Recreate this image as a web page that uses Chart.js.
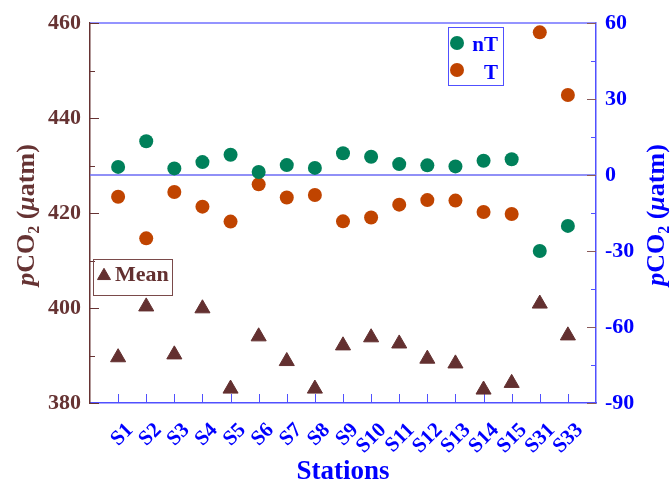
<!DOCTYPE html>
<html>
<head>
<meta charset="utf-8">
<script src="https://cdn.jsdelivr.net/npm/chart.js@4/dist/chart.umd.min.js"></script>
<style>
  html, body { margin: 0; padding: 0; background: #ffffff; }
  #wrap { width: 670px; height: 483px; }
</style>
</head>
<body>
<div id="wrap"><canvas id="c" width="670" height="483"></canvas></div>
<script>
// Sampling stations along the x axis
const stations = ['S1','S2','S3','S4','S5','S6','S7','S8','S9','S10','S11','S12','S13','S14','S15','S31','S33'];
// Mean pCO2 (left axis, µatm)
const meanValues = [389.6, 400.3, 390.2, 399.9, 383.0, 394.0, 388.8, 383.0, 392.1, 393.8, 392.5, 389.3, 388.3, 382.8, 384.2, 400.9, 394.2];
// Non-thermal and thermal components (right axis, µatm)
const nTValues = [3.2, 13.3, 2.6, 5.1, 8.0, 1.2, 3.9, 2.8, 8.6, 7.2, 4.3, 3.8, 3.4, 5.6, 6.2, -30.0, -20.1];
const TValues = [-8.6, -25.0, -6.7, -12.5, -18.4, -3.7, -8.9, -7.9, -18.3, -16.8, -11.7, -9.9, -10.1, -14.6, -15.4, 56.3, 31.6];
// Axis ticks
const leftTicks = [380, 400, 420, 440, 460];
const rightTicks = [-90, -60, -30, 0, 30, 60];

const SERIF = '"Liberation Serif", "Times New Roman", serif';
const MAROON = '#663333';
const TRI = '#633030';
const BLUE = '#0000ff';
const LINE_BLUE = '#5050ff';
const GREEN = '#00805a';
const ORANGE = '#c04400';

const toPoints = vals => vals.map((v, i) => ({ x: i + 1, y: v }));

// Inward ticks, zero reference line and frame
const framePlugin = {
  id: 'frame',
  beforeDatasetsDraw(chart) {
    const { ctx, chartArea: a, scales } = chart;
    const yL = scales.y, yR = scales.y1, x = scales.x;
    ctx.save();
    ctx.lineWidth = 1.5;
    // zero line of the right axis
    ctx.strokeStyle = '#6b6bf5';
    const z = yR.getPixelForValue(0);
    ctx.beginPath(); ctx.moveTo(a.left, z); ctx.lineTo(a.right, z); ctx.stroke();
    // top frame
    ctx.strokeStyle = '#7070ff';
    ctx.beginPath(); ctx.moveTo(a.left, a.top); ctx.lineTo(a.right, a.top); ctx.stroke();
    // left ticks
    ctx.strokeStyle = MAROON;
    ctx.lineWidth = 1;
    for (let v = yL.min; v <= yL.max; v += 10) {
      const p = Math.round(yL.getPixelForValue(v)) + 0.5;
      const len = (v % 20 === 0) ? 9 : 5;
      ctx.beginPath(); ctx.moveTo(a.left, p); ctx.lineTo(a.left + len, p); ctx.stroke();
    }
    // right ticks
    for (let v = yR.min; v <= yR.max; v += 15) {
      const p = Math.round(yR.getPixelForValue(v)) + 0.5;
      const major = (v % 30 === 0);
      ctx.strokeStyle = major ? '#8a5a5a' : LINE_BLUE;
      const len = major ? 9 : 5;
      ctx.beginPath(); ctx.moveTo(a.right, p); ctx.lineTo(a.right - len, p); ctx.stroke();
    }
    // bottom ticks
    ctx.strokeStyle = LINE_BLUE;
    for (let i = 1; i <= stations.length; i++) {
      const p = Math.round(x.getPixelForValue(i)) + 0.5;
      ctx.beginPath(); ctx.moveTo(p, a.bottom); ctx.lineTo(p, a.bottom - 9); ctx.stroke();
    }
    ctx.restore();
  }
};

// Axis titles with italic variable, subscript and Greek letter
function drawTitle(ctx, cx, cy, color) {
  const size = 26;
  const parts = [
    { t: 'p', f: `italic bold ${size}px ${SERIF}`, dy: 0 },
    { t: 'CO', f: `bold ${size}px ${SERIF}`, dy: 0 },
    { t: '2', f: `bold ${Math.round(size * 0.6)}px ${SERIF}`, dy: 5 },
    { t: ' (', f: `bold ${size}px ${SERIF}`, dy: 0 },
    { t: 'μ', f: `italic bold ${size}px ${SERIF}`, dy: 0 },
    { t: 'atm)', f: `bold ${size}px ${SERIF}`, dy: 0 }
  ];
  ctx.save();
  let total = 0;
  parts.forEach(p => { ctx.font = p.f; p.w = ctx.measureText(p.t).width; total += p.w; });
  ctx.translate(cx, cy);
  ctx.rotate(-Math.PI / 2);
  ctx.fillStyle = color;
  ctx.textBaseline = 'alphabetic';
  ctx.textAlign = 'left';
  let xx = -total / 2;
  parts.forEach(p => { ctx.font = p.f; ctx.fillText(p.t, xx, p.dy); xx += p.w; });
  ctx.restore();
}

const decorPlugin = {
  id: 'decor',
  afterDraw(chart) {
    const { ctx, chartArea: a } = chart;
    drawTitle(ctx, 34, (a.top + a.bottom) / 2 + 2, MAROON);
    drawTitle(ctx, 664, (a.top + a.bottom) / 2 + 2, BLUE);

    // x axis title
    ctx.save();
    ctx.fillStyle = BLUE;
    ctx.font = `bold 27px ${SERIF}`;
    ctx.textAlign = 'center';
    ctx.textBaseline = 'alphabetic';
    ctx.fillText('Stations', (a.left + a.right) / 2, 479);
    ctx.restore();

    // legend: nT / T
    ctx.save();
    ctx.strokeStyle = LINE_BLUE;
    ctx.lineWidth = 1;
    ctx.strokeRect(448.5, 27.5, 55, 58);
    ctx.fillStyle = GREEN;
    ctx.beginPath(); ctx.arc(457, 43, 7, 0, Math.PI * 2); ctx.fill();
    ctx.fillStyle = ORANGE;
    ctx.beginPath(); ctx.arc(457, 70, 7, 0, Math.PI * 2); ctx.fill();
    ctx.fillStyle = BLUE;
    ctx.font = `bold 21px ${SERIF}`;
    ctx.textAlign = 'right';
    ctx.fillText('nT', 498, 51);
    ctx.fillText('T', 498, 79);
    ctx.restore();

    // legend: Mean
    ctx.save();
    ctx.strokeStyle = '#7a4a4a';
    ctx.lineWidth = 1;
    ctx.strokeRect(93.5, 259.5, 79, 36);
    ctx.fillStyle = TRI;
    ctx.strokeStyle = TRI;
    Chart.helpers.drawPoint(ctx, { pointStyle: 'triangle', radius: 7.5, borderWidth: 1 }, 104, 275.8);
    ctx.fillStyle = TRI;
    ctx.font = `bold 22px ${SERIF}`;
    ctx.textAlign = 'left';
    ctx.fillText('Mean', 115, 281);
    ctx.restore();
  }
};

new Chart(document.getElementById('c'), {
  type: 'scatter',
  data: {
    datasets: [
      {
        label: 'nT', data: toPoints(nTValues), yAxisID: 'y1',
        pointStyle: 'circle', pointRadius: 7, pointHoverRadius: 7,
        backgroundColor: GREEN, borderColor: GREEN, borderWidth: 0
      },
      {
        label: 'T', data: toPoints(TValues), yAxisID: 'y1',
        pointStyle: 'circle', pointRadius: 7, pointHoverRadius: 7,
        backgroundColor: ORANGE, borderColor: ORANGE, borderWidth: 0
      },
      {
        label: 'Mean', data: toPoints(meanValues), yAxisID: 'y',
        pointStyle: 'triangle', pointRadius: 8.7, pointHoverRadius: 8.7,
        backgroundColor: TRI, borderColor: TRI, borderWidth: 1
      }
    ]
  },
  options: {
    responsive: false,
    animation: false,
    events: [],
    layout: { padding: { top: 23, left: 0, right: 0, bottom: 0 } },
    plugins: { legend: { display: false }, tooltip: { enabled: false } },
    scales: {
      x: {
        type: 'linear', position: 'bottom', min: 0, max: stations.length + 1,
        afterBuildTicks: s => { s.ticks = stations.map((_, i) => ({ value: i + 1 })); },
        afterFit: s => { s.height = 80; },
        grid: { display: false, drawTicks: false },
        border: { display: true, color: LINE_BLUE, width: 1.5 },
        ticks: {
          autoSkip: false, minRotation: 45, maxRotation: 45,
          padding: 15, labelOffset: 12,
          color: BLUE, font: { family: SERIF, size: 21, weight: 'bold' },
          callback: v => stations[v - 1] || ''
        }
      },
      y: {
        type: 'linear', position: 'left', min: 380, max: 460,
        afterBuildTicks: s => { s.ticks = leftTicks.map(v => ({ value: v })); },
        afterFit: s => { s.width = 90; },
        grid: { display: false, drawTicks: false },
        border: { display: true, color: MAROON, width: 1.5 },
        ticks: { padding: 9, color: MAROON, font: { family: SERIF, size: 22, weight: 'bold' } }
      },
      y1: {
        type: 'linear', position: 'right', min: -90, max: 60,
        afterBuildTicks: s => { s.ticks = rightTicks.map(v => ({ value: v })); },
        afterFit: s => { s.width = 74; },
        grid: { display: false, drawTicks: false },
        border: { display: true, color: LINE_BLUE, width: 1.5 },
        ticks: { padding: 9, color: BLUE, font: { family: SERIF, size: 22, weight: 'bold' } }
      }
    }
  },
  plugins: [framePlugin, decorPlugin]
});
</script>
</body>
</html>
